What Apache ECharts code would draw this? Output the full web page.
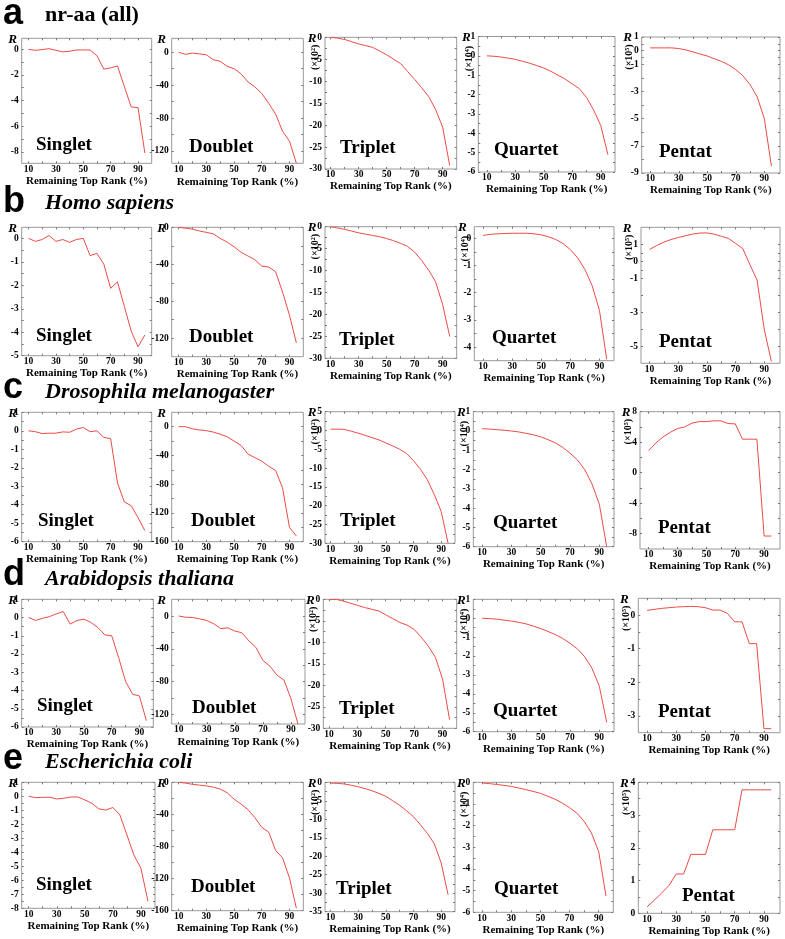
<!DOCTYPE html>
<html><head><meta charset="utf-8">
<script src="https://cdn.jsdelivr.net/npm/echarts@6/dist/echarts.min.js"></script>
<style>html,body{margin:0;padding:0;background:#fff}#c{width:785px;height:939px}</style>
</head><body><div id="c"></div>
<script>
// ---------- data ----------
const rank = [10,15,20,25,30,35,40,45,50,55,60,65,70,75,80,85,90,95];
const rankLabels = [10,30,50,70,90];
const rankTicks = [10,20,30,40,50,60,70,80,90];
const orders = ['Singlet','Doublet','Triplet','Quartet','Pentat'];
const scaleNotes = ['', '', '(×10²)', '(×10⁴)', '(×10⁵)'];
const rowLetters = ['a','b','c','d','e'];
const organisms = ['nr-aa (all)','Homo sapiens','Drosophila melanogaster','Arabidopsis thaliana','Escherichia coli'];
const xName = 'Remaining Top Rank (%)';

const nrSinglet = [0,-0.08,-0.02,0.05,-0.08,-0.2,-0.15,-0.05,-0.05,-0.05,-0.5,-1.55,-1.45,-1.3,-2.9,-4.5,-4.55,-8.1];
const nrDoublet = [0,-2.5,-1,-2,-3,-9,-11,-17,-20,-26,-36,-42,-50,-62,-75,-96,-108,-135];
const nrTriplet = [0,-0.2,-0.5,-1.0,-1.5,-1.9,-2.3,-3.1,-4.0,-5.0,-6.0,-7.8,-9.6,-11.5,-13.5,-16.5,-20.5,-29.2];
const nrQuartet = [0,-0.02,-0.06,-0.12,-0.18,-0.28,-0.38,-0.5,-0.63,-0.8,-1.0,-1.2,-1.45,-1.7,-2.15,-2.8,-3.6,-5.1];
const nrPentat  = [0.2,0.2,0.2,0.2,0.15,0.05,-0.1,-0.25,-0.4,-0.6,-0.8,-1.05,-1.4,-1.85,-2.5,-3.4,-5.0,-8.5];

const hsSinglet = [0,-0.13,-0.05,0.12,-0.13,-0.05,-0.17,-0.05,0,-0.74,-0.64,-1.1,-2.13,-1.85,-2.9,-3.95,-4.62,-4.12];
const hsDoublet = [0,-1,-2,-4,-5.5,-7,-12,-16,-21,-27,-31,-35,-42,-43,-48,-70,-95,-125];
const hsTriplet = [0,-0.3,-0.6,-1.0,-1.4,-1.7,-2.0,-2.3,-2.7,-3.2,-3.8,-4.5,-5.8,-7.7,-9.9,-12.6,-17.8,-25];
const hsQuartet = [0.1,0.14,0.16,0.17,0.18,0.18,0.18,0.16,0.12,0.05,-0.05,-0.2,-0.42,-0.72,-1.15,-1.75,-2.65,-4.45];
const hsPentat  = [0.7,0.93,1.13,1.28,1.4,1.5,1.6,1.66,1.67,1.6,1.47,1.35,1.05,0.75,-0.2,-1.1,-4.0,-5.9];

const dmSinglet = [0,-0.05,-0.15,-0.13,-0.13,-0.06,-0.08,0.09,0.18,-0.05,0,-0.36,-0.42,-2.82,-3.85,-4.05,-4.7,-5.4];
const dmDoublet = [0,0,-3,-4.5,-5.5,-7.5,-10.5,-14,-20,-26,-38,-43,-48,-55,-61,-85,-140,-152];
const dmTriplet = [0.35,0.35,0.3,-0.2,-0.7,-1.3,-1.9,-2.5,-3.3,-4.1,-5.0,-6.1,-8.0,-10.3,-13.1,-17,-21.5,-30];
const dmQuartet = [0.12,0.1,0.07,0.04,0,-0.05,-0.12,-0.2,-0.3,-0.45,-0.62,-0.85,-1.15,-1.5,-2.0,-2.75,-3.8,-6.0];
const dmPentat  = [2.9,3.9,4.7,5.3,5.8,6.0,6.5,6.7,6.7,6.8,6.8,6.45,6.4,4.4,4.4,4.4,-8.3,-8.3];

const atSinglet = [0,-0.16,-0.04,0.05,0.2,0.33,-0.36,-0.16,-0.09,-0.27,-0.55,-0.95,-1.0,-2.2,-3.5,-4.2,-4.3,-5.65];
const atDoublet = [0.5,-1,-1.3,-3,-5,-9,-15,-14,-18,-20,-30,-38,-54,-61,-72,-78,-101,-132];
const atTriplet = [-0.1,0,-0.4,-0.9,-1.4,-1.9,-2.3,-2.7,-3.6,-4.5,-5.4,-6.0,-7.0,-8.8,-10.9,-13.5,-18.5,-28];
const atQuartet = [0,-0.02,-0.05,-0.1,-0.15,-0.22,-0.3,-0.42,-0.55,-0.7,-0.87,-1.07,-1.33,-1.62,-2.04,-2.65,-3.6,-5.5];
const atPentat  = [0.14,0.17,0.2,0.22,0.24,0.25,0.26,0.25,0.22,0.15,0.15,0.05,-0.2,-0.2,-0.85,-0.85,-3.38,-3.38];

const ecSinglet = [0,-0.1,-0.07,-0.07,-0.19,-0.14,-0.05,-0.05,-0.26,-0.5,-0.9,-0.98,-0.8,-1.33,-2.76,-4.2,-5.15,-7.5];
const ecDoublet = [0,-1,-2.5,-3.5,-4.5,-6,-8.5,-13,-21,-27,-34,-44,-56,-62,-85,-94,-119,-157];
const ecTriplet = [-0.2,-0.3,-0.45,-0.8,-1.2,-1.7,-2.3,-3.0,-3.8,-5.0,-6.2,-7.7,-9.3,-11.5,-13.8,-16.6,-21.8,-30.4];
const ecQuartet = [-0.03,-0.06,-0.1,-0.14,-0.19,-0.26,-0.34,-0.42,-0.51,-0.64,-0.78,-0.96,-1.17,-1.42,-1.8,-2.34,-3.2,-5.25];
const ecPentat  = [0.2,0.4,0.62,0.85,1.2,1.2,1.8,1.8,1.8,2.55,2.55,2.55,2.55,3.77,3.77,3.77,3.77,3.77];

// y tick labels per panel
const nrYLabels = [[0,-2,-4,-6,-8],[0,-40,-80,-120],[0,-5,-10,-15,-20,-25,-30],[1,0,-1,-2,-3,-4,-5,-6],[1,0,-1,-3,-5,-7,-9]];
const hsYLabels = [[0,-1,-2,-3,-4,-5],[0,-40,-80,-120],[0,-5,-10,-15,-20,-25,-30],[0,-1,-2,-3,-4],[1,0,-1,-3,-5]];
const dmYLabels = [[1,0,-1,-2,-3,-4,-5,-6],[0,-40,-80,-120,-160],[5,0,-5,-10,-15,-20,-25,-30],[1,0,-1,-2,-3,-4,-5,-6],[8,4,0,-4,-8]];
const atYLabels = [[1,0,-1,-2,-3,-4,-5,-6],[0,-40,-80,-120],[0,-5,-10,-15,-20,-25,-30],[1,0,-1,-2,-3,-4,-5,-6],[0,-1,-2,-3]];
const ecYLabels = [[1,0,-1,-2,-3,-4,-5,-6,-7,-8],[0,-40,-80,-120,-160],[0,-5,-10,-15,-20,-25,-30,-35],[0,-1,-2,-3,-4,-5,-6],[4,3,2,1,0]];

const values = [
  [nrSinglet,nrDoublet,nrTriplet,nrQuartet,nrPentat],
  [hsSinglet,hsDoublet,hsTriplet,hsQuartet,hsPentat],
  [dmSinglet,dmDoublet,dmTriplet,dmQuartet,dmPentat],
  [atSinglet,atDoublet,atTriplet,atQuartet,atPentat],
  [ecSinglet,ecDoublet,ecTriplet,ecQuartet,ecPentat]
];
const yLabels = [nrYLabels,hsYLabels,dmYLabels,atYLabels,ecYLabels];

// ---------- layout (axis extents and pixel boxes) ----------
const yExtents = [
  [[-8.9,0.86],[-135,17],[-30,0],[-6,1],[-9,1]],
  [[-5,0.47],[-140,0],[-30,0],[-4.5,0.42],[-6,2]],
  [[-6,1],[-160,20],[-30,5],[-6,1],[-10,8]],
  [[-6,1],[-132,21],[-30,0],[-6,1],[-3.5,0.5]],
  [[-8,1],[-160,0],[-35,0],[-6,0],[0,4]]
];
const xExtents = [[5,100],[5,100],[6,100],[4,100],[4,101]];
const boxes = [
  [[21.7,38.3,151.7,163.3],[171.7,38.3,303.3,163.3],[325,37.3,456.7,169],[478.3,36.5,615,172],[641.7,37,780,173]],
  [[21.7,227.3,151.7,355.7],[171.7,227.3,303.3,356.7],[325,226.7,456.7,358.3],[474.3,226.7,614,360.7],[641,227.3,780,363.3]],
  [[21.7,412.3,151.7,541.7],[171.7,412.3,303.3,541.7],[325,411.7,455,543.3],[473.3,411.7,614,546.7],[640,411.7,780,549]],
  [[21.7,599.3,153.3,727],[171.7,599.3,305,724],[323.3,599.3,456.7,728.3],[473.3,599.3,614,731.7],[638.3,598.3,780,732.7]],
  [[21.7,782.3,155,908.3],[171.7,782.3,303.3,910.7],[325,782.3,455,911.7],[473.3,782.3,613.3,912.3],[638.3,782.3,780,913.3]]
];
const nameCenters = [
  [182,183,183.3,185,188],
  [371.7,372.7,373.3,376,378],
  [557.7,557.7,560,562.7,564.3],
  [741.7,742.7,745,747.7,748.3],
  [925,925,926,926.7,927.7]
];
const orderPos = [
  [[36,145],[189,147],[340,148],[494,150],[659,152]],
  [[36,336],[189,337],[339,340],[492,338],[659,342]],
  [[38,521],[191,521],[340,521],[493,523],[658,528]],
  [[37,706],[192,708],[339,709],[493,711],[658,712]],
  [[36,885],[191,887],[336,889],[494,889],[682,896]]
];
const rOffsets = [9,10,13,12,14];
const noteOffsets = [[0,0],[0,0],[10,20],[9,22],[12,20]];
const letterCenters = [14.5,202.5,388.5,575.5,759.5];
const titleCenters = [15.2,203,392.5,579,762.5];

const SERIF = "'Liberation Serif','Times New Roman','DejaVu Serif',serif";
const SANS = "'Liberation Sans',Arial,sans-serif";
const LINE = '#ec4b45';
const FRAME = '#999999';

function midTicks(arr){
  const s = arr.slice().sort((a,b)=>a-b);
  const out = s.slice();
  for(let i=0;i<s.length-1;i++) out.push((s[i]+s[i+1])/2);
  return out;
}
function txt(x,y,text,font,opts){
  opts = opts||{};
  return {type:'text', x:x, y:y, rotation:opts.rotation||0, silent:true, z:100,
    style:{text:text, font:font, fill:'#000',
      align:opts.align||'left', textAlign:opts.align||'left',
      verticalAlign:'middle', textVerticalAlign:'middle'}};
}

const grids=[], xAxes=[], yAxes=[], series=[], graphics=[];
for(let r=0;r<5;r++){
  graphics.push(txt(3, letterCenters[r], rowLetters[r], 'bold 36px '+SANS));
  graphics.push(txt(45, titleCenters[r], organisms[r], (r===0?'bold ':'italic bold ')+'22px '+SERIF));
  for(let c=0;c<5;c++){
    const idx = r*5+c;
    const [l,t,rr,b] = boxes[r][c];
    const [ymin,ymax] = yExtents[r][c];
    const [xmin,xmax] = xExtents[c];
    const yl = yLabels[r][c];
    const yt = midTicks(yl).filter(v=>v>=ymin&&v<=ymax);
    grids.push({left:l, top:t, width:rr-l, height:b-t, show:true, borderColor:FRAME, borderWidth:1, backgroundColor:'rgba(0,0,0,0)'});
    const tickStyle = {show:true, inside:true, length:2, lineStyle:{color:'#777', width:1}};
    const noLine = {show:false, onZero:false};
    xAxes.push({gridIndex:idx, type:'value', position:'bottom', min:xmin, max:xmax,
      name:xName, nameLocation:'middle', nameGap: nameCenters[r][c]-b-6,
      nameTextStyle:{fontFamily:SERIF, fontWeight:'bold', fontSize:11, color:'#000'},
      axisLine:noLine, splitLine:{show:false},
      axisTick:Object.assign({customValues:rankTicks}, tickStyle),
      axisLabel:{customValues:rankLabels, margin:1, fontFamily:SERIF, fontWeight:'bold', fontSize:9.5, color:'#000'}});
    xAxes.push({gridIndex:idx, type:'value', position:'top', min:xmin, max:xmax,
      axisLine:noLine, splitLine:{show:false},
      axisTick:Object.assign({customValues:rankTicks}, tickStyle),
      axisLabel:{show:false}});
    yAxes.push({gridIndex:idx, type:'value', position:'left', min:ymin, max:ymax,
      axisLine:noLine, splitLine:{show:false},
      axisTick:Object.assign({customValues:yt}, tickStyle),
      axisLabel:{customValues:yl, margin:3, fontFamily:SERIF, fontWeight:'bold', fontSize:9.5, color:'#000'}});
    yAxes.push({gridIndex:idx, type:'value', position:'right', min:ymin, max:ymax,
      axisLine:noLine, splitLine:{show:false},
      axisTick:Object.assign({customValues:yt}, tickStyle),
      axisLabel:{show:false}});
    series.push({type:'line', xAxisIndex:2*idx, yAxisIndex:2*idx,
      data: rank.map((x,i)=>[x, values[r][c][i]]),
      showSymbol:false, symbol:'none', silent:true,
      lineStyle:{color:LINE, width:1}});
    graphics.push(txt(l - rOffsets[c], t + 1, 'R', 'italic bold 13px '+SERIF, {align:'center'}));
    if(scaleNotes[c]){
      graphics.push(txt(l - noteOffsets[c][0], t + noteOffsets[c][1], scaleNotes[c], 'bold 10px '+SERIF, {align:'center', rotation:Math.PI/2}));
    }
    const [ox,oy] = orderPos[r][c];
    graphics.push(txt(ox, oy, orders[c], 'bold 19px '+SERIF));
  }
}

const chart = echarts.init(document.getElementById('c'), null, {renderer:'canvas'});
chart.setOption({
  animation:false,
  backgroundColor:'#fff',
  grid:grids, xAxis:xAxes, yAxis:yAxes, series:series,
  graphic:{elements:graphics}
});
</script>
</body></html>
